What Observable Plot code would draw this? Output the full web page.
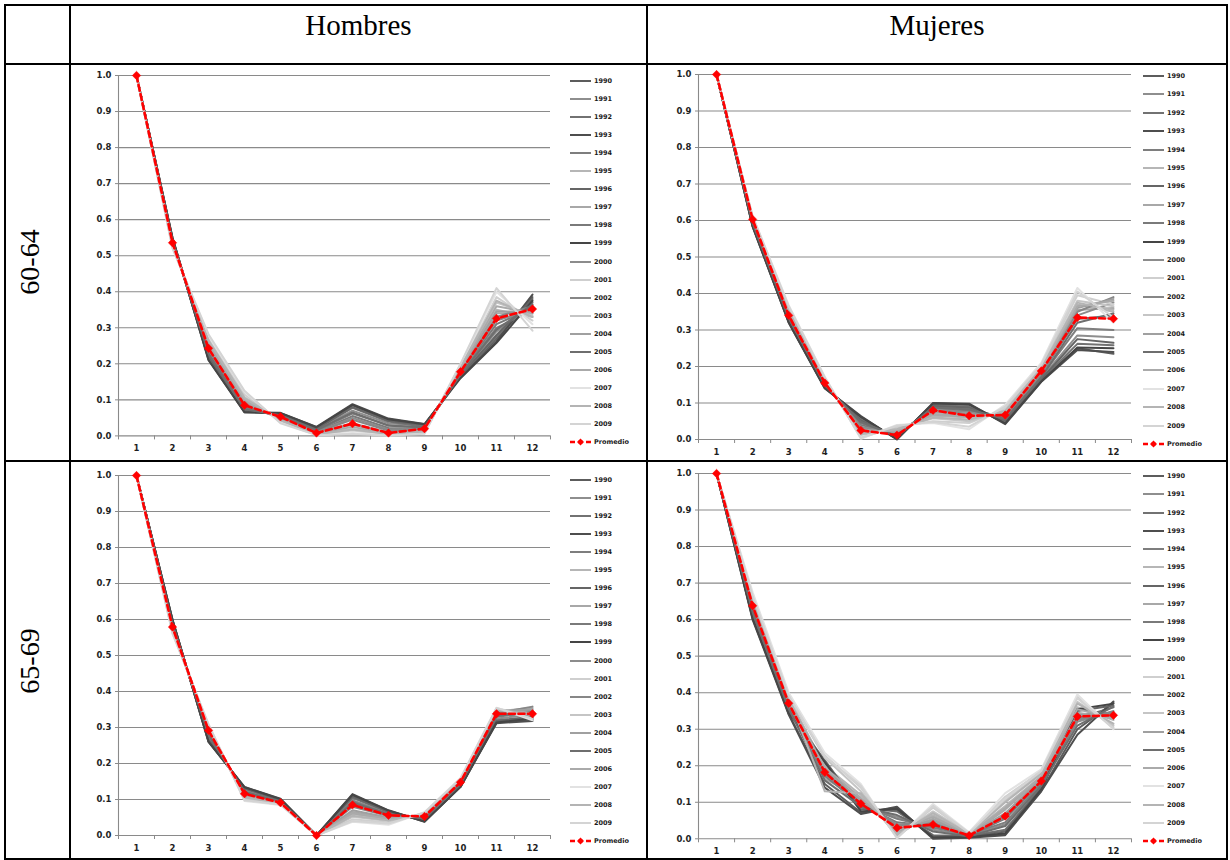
<!DOCTYPE html>
<html>
<head>
<meta charset="utf-8">
<script src="https://cdn.jsdelivr.net/npm/d3@7"></script>
<script src="https://cdn.jsdelivr.net/npm/@observablehq/plot@0.6"></script>
<style>
  body { margin: 0; background: #fff; }
  #page { position: relative; width: 1230px; height: 860px; overflow: hidden; background: #fff; }
  .rule { position: absolute; background: #000; }
  .head { position: absolute; font-family: "Liberation Serif", serif; font-size: 29px; color: #000; text-align: center; line-height: 32px; white-space: nowrap; }
  .rowlab { position: absolute; font-family: "Liberation Serif", serif; font-size: 28px; color: #000; white-space: nowrap; transform: translate(-50%, -50%) rotate(-90deg); }
  .panel { position: absolute; }
  .legend { position: absolute; font-family: "DejaVu Sans", sans-serif; font-weight: bold; font-size: 6.5px; color: #1a1a1a; }
  .legend .item { position: absolute; left: 0; height: 8px; display: flex; align-items: center; white-space: nowrap; }
  .legend svg { display: block; margin-right: 3px; }
</style>
</head>
<body>
<div id="page"></div>
<script>
// Month index on the horizontal axis and the value ticks on the vertical one
const categories = [1, 2, 3, 4, 5, 6, 7, 8, 9, 10, 11, 12];
const yTicks = [0, 0.1, 0.2, 0.3, 0.4, 0.5, 0.6, 0.7, 0.8, 0.9, 1.0];

const years = [1990, 1991, 1992, 1993, 1994, 1995, 1996, 1997, 1998, 1999,
               2000, 2001, 2002, 2003, 2004, 2005, 2006, 2007, 2008, 2009];
const yearColors = ["#5c5c5c", "#8e8e8e", "#727272", "#4e4e4e", "#7e7e7e", "#b6b6b6", "#656565", "#a8a8a8", "#7a7a7a", "#454545",
                    "#8c8c8c", "#cfcfcf", "#878787", "#c5c5c5", "#a0a0a0", "#6e6e6e", "#aaaaaa", "#e2e2e2", "#b4b4b4", "#d4d4d4"];

const columnTitles = ["Hombres", "Mujeres"];
const rowTitles = ["60-64", "65-69"];

// Hombres, 60-64: one row per year, twelve values each
const hombres6064 = [
  [1, 0.545, 0.215, 0.068, 0.062, 0.022, 0.085, 0.045, 0.030, 0.165, 0.270, 0.385],
  [1, 0.540, 0.225, 0.075, 0.058, 0.018, 0.070, 0.035, 0.028, 0.170, 0.290, 0.360],
  [1, 0.548, 0.220, 0.070, 0.060, 0.020, 0.078, 0.040, 0.025, 0.165, 0.275, 0.370],
  [1, 0.550, 0.212, 0.065, 0.064, 0.025, 0.088, 0.048, 0.033, 0.162, 0.262, 0.392],
  [1, 0.538, 0.230, 0.078, 0.055, 0.015, 0.062, 0.030, 0.022, 0.172, 0.300, 0.350],
  [1, 0.530, 0.258, 0.100, 0.045, 0.008, 0.030, 0.008, 0.015, 0.182, 0.350, 0.330],
  [1, 0.545, 0.218, 0.070, 0.060, 0.020, 0.080, 0.042, 0.030, 0.166, 0.280, 0.380],
  [1, 0.532, 0.250, 0.095, 0.048, 0.010, 0.035, 0.010, 0.018, 0.180, 0.340, 0.340],
  [1, 0.540, 0.235, 0.080, 0.052, 0.012, 0.055, 0.022, 0.020, 0.175, 0.310, 0.355],
  [1, 0.550, 0.210, 0.066, 0.063, 0.024, 0.086, 0.046, 0.032, 0.160, 0.258, 0.375],
  [1, 0.538, 0.238, 0.085, 0.050, 0.010, 0.050, 0.018, 0.020, 0.176, 0.320, 0.350],
  [1, 0.525, 0.270, 0.115, 0.040, 0.004, 0.015, 0.003, 0.010, 0.192, 0.385, 0.320],
  [1, 0.535, 0.240, 0.088, 0.050, 0.010, 0.045, 0.015, 0.020, 0.178, 0.330, 0.360],
  [1, 0.528, 0.262, 0.108, 0.042, 0.005, 0.020, 0.004, 0.012, 0.188, 0.370, 0.335],
  [1, 0.532, 0.248, 0.092, 0.047, 0.008, 0.032, 0.008, 0.016, 0.182, 0.345, 0.345],
  [1, 0.542, 0.228, 0.074, 0.057, 0.016, 0.065, 0.028, 0.024, 0.170, 0.295, 0.365],
  [1, 0.530, 0.255, 0.098, 0.045, 0.006, 0.025, 0.006, 0.014, 0.185, 0.360, 0.340],
  [1, 0.522, 0.278, 0.122, 0.037, 0.002, 0.008, 0.002, 0.008, 0.198, 0.400, 0.310],
  [1, 0.528, 0.265, 0.105, 0.043, 0.004, 0.018, 0.005, 0.012, 0.190, 0.375, 0.330],
  [1, 0.520, 0.282, 0.125, 0.035, 0.002, 0.005, 0.001, 0.006, 0.200, 0.410, 0.292]
];
const promedioH6064 = [1.0, 0.536, 0.243, 0.085, 0.053, 0.008, 0.034, 0.008, 0.020, 0.178, 0.326, 0.352];

// Mujeres, 60-64
const mujeres6064 = [
  [1, 0.585, 0.322, 0.142, 0.060, 0.002, 0.098, 0.095, 0.045, 0.160, 0.250, 0.235],
  [1, 0.592, 0.330, 0.148, 0.050, 0.008, 0.090, 0.088, 0.055, 0.168, 0.285, 0.280],
  [1, 0.588, 0.326, 0.145, 0.055, 0.005, 0.095, 0.090, 0.050, 0.163, 0.262, 0.258],
  [1, 0.583, 0.320, 0.140, 0.064, 0.000, 0.100, 0.098, 0.042, 0.158, 0.245, 0.240],
  [1, 0.595, 0.334, 0.150, 0.045, 0.010, 0.088, 0.085, 0.058, 0.172, 0.305, 0.300],
  [1, 0.605, 0.352, 0.162, 0.020, 0.025, 0.065, 0.060, 0.075, 0.192, 0.370, 0.350],
  [1, 0.590, 0.328, 0.146, 0.052, 0.006, 0.092, 0.088, 0.052, 0.165, 0.275, 0.265],
  [1, 0.603, 0.348, 0.160, 0.025, 0.022, 0.070, 0.065, 0.070, 0.190, 0.355, 0.360],
  [1, 0.597, 0.338, 0.152, 0.040, 0.012, 0.085, 0.078, 0.060, 0.178, 0.330, 0.340],
  [1, 0.584, 0.321, 0.141, 0.062, 0.001, 0.099, 0.096, 0.044, 0.159, 0.252, 0.250],
  [1, 0.598, 0.340, 0.153, 0.035, 0.015, 0.082, 0.075, 0.062, 0.180, 0.340, 0.375],
  [1, 0.610, 0.362, 0.168, 0.005, 0.035, 0.050, 0.045, 0.085, 0.200, 0.395, 0.370],
  [1, 0.600, 0.342, 0.155, 0.030, 0.018, 0.080, 0.070, 0.065, 0.182, 0.350, 0.390],
  [1, 0.607, 0.356, 0.165, 0.012, 0.030, 0.058, 0.050, 0.080, 0.196, 0.380, 0.365],
  [1, 0.602, 0.346, 0.158, 0.028, 0.020, 0.075, 0.068, 0.068, 0.186, 0.360, 0.385],
  [1, 0.593, 0.332, 0.149, 0.048, 0.009, 0.088, 0.082, 0.056, 0.170, 0.320, 0.345],
  [1, 0.604, 0.350, 0.161, 0.022, 0.024, 0.068, 0.062, 0.072, 0.192, 0.365, 0.380],
  [1, 0.612, 0.368, 0.172, 0.002, 0.040, 0.045, 0.028, 0.095, 0.210, 0.415, 0.320],
  [1, 0.606, 0.354, 0.163, 0.015, 0.028, 0.060, 0.055, 0.078, 0.194, 0.375, 0.355],
  [1, 0.611, 0.365, 0.170, 0.004, 0.038, 0.048, 0.035, 0.090, 0.205, 0.405, 0.335]
];
const promedioM6064 = [1.0, 0.603, 0.340, 0.155, 0.025, 0.012, 0.080, 0.065, 0.067, 0.188, 0.334, 0.331];

// Hombres, 65-69
const hombres6569 = [
  [1, 0.598, 0.262, 0.133, 0.100, 0, 0.112, 0.068, 0.040, 0.136, 0.315, 0.322],
  [1, 0.590, 0.275, 0.125, 0.095, 0, 0.098, 0.062, 0.045, 0.140, 0.325, 0.335],
  [1, 0.594, 0.268, 0.130, 0.098, 0, 0.105, 0.065, 0.042, 0.138, 0.320, 0.330],
  [1, 0.600, 0.260, 0.135, 0.102, 0, 0.115, 0.070, 0.038, 0.135, 0.312, 0.318],
  [1, 0.588, 0.278, 0.122, 0.094, 0, 0.095, 0.060, 0.046, 0.142, 0.330, 0.340],
  [1, 0.572, 0.298, 0.108, 0.090, 0, 0.060, 0.045, 0.055, 0.152, 0.345, 0.355],
  [1, 0.596, 0.265, 0.131, 0.099, 0, 0.108, 0.066, 0.041, 0.137, 0.318, 0.328],
  [1, 0.575, 0.295, 0.110, 0.091, 0, 0.065, 0.048, 0.054, 0.150, 0.342, 0.352],
  [1, 0.585, 0.282, 0.120, 0.093, 0, 0.090, 0.058, 0.048, 0.144, 0.335, 0.345],
  [1, 0.599, 0.261, 0.134, 0.101, 0, 0.113, 0.069, 0.039, 0.135, 0.314, 0.325],
  [1, 0.583, 0.285, 0.118, 0.092, 0, 0.085, 0.056, 0.050, 0.146, 0.338, 0.348],
  [1, 0.565, 0.305, 0.100, 0.087, 0, 0.045, 0.036, 0.062, 0.157, 0.352, 0.338],
  [1, 0.580, 0.288, 0.116, 0.092, 0, 0.080, 0.054, 0.051, 0.148, 0.340, 0.358],
  [1, 0.568, 0.302, 0.104, 0.088, 0, 0.052, 0.040, 0.060, 0.155, 0.350, 0.342],
  [1, 0.578, 0.292, 0.112, 0.090, 0, 0.070, 0.050, 0.053, 0.150, 0.345, 0.350],
  [1, 0.587, 0.280, 0.121, 0.094, 0, 0.092, 0.059, 0.047, 0.143, 0.332, 0.344],
  [1, 0.574, 0.296, 0.109, 0.090, 0, 0.062, 0.046, 0.056, 0.152, 0.348, 0.340],
  [1, 0.560, 0.310, 0.096, 0.085, 0, 0.038, 0.030, 0.065, 0.160, 0.355, 0.320],
  [1, 0.570, 0.300, 0.106, 0.089, 0, 0.055, 0.042, 0.058, 0.154, 0.350, 0.335],
  [1, 0.562, 0.308, 0.098, 0.086, 0, 0.040, 0.033, 0.064, 0.158, 0.354, 0.325]
];
const promedioH6569 = [1.0, 0.579, 0.292, 0.116, 0.091, 0.0, 0.085, 0.056, 0.053, 0.148, 0.338, 0.338];

// Mujeres, 65-69
const mujeres6569 = [
  [1, 0.605, 0.342, 0.150, 0.072, 0.085, 0.002, 0.005, 0.012, 0.132, 0.300, 0.372],
  [1, 0.625, 0.360, 0.175, 0.090, 0.060, 0.025, 0.010, 0.040, 0.148, 0.320, 0.350],
  [1, 0.615, 0.350, 0.205, 0.085, 0.075, 0.010, 0.008, 0.025, 0.140, 0.330, 0.360],
  [1, 0.600, 0.340, 0.140, 0.068, 0.088, 0.000, 0.003, 0.010, 0.130, 0.285, 0.376],
  [1, 0.628, 0.362, 0.185, 0.092, 0.055, 0.030, 0.012, 0.045, 0.150, 0.340, 0.345],
  [1, 0.655, 0.385, 0.200, 0.120, 0.015, 0.065, 0.012, 0.090, 0.172, 0.360, 0.325],
  [1, 0.612, 0.348, 0.215, 0.080, 0.078, 0.008, 0.006, 0.020, 0.138, 0.350, 0.365],
  [1, 0.650, 0.380, 0.165, 0.110, 0.020, 0.055, 0.010, 0.080, 0.168, 0.345, 0.330],
  [1, 0.630, 0.365, 0.172, 0.095, 0.045, 0.035, 0.008, 0.055, 0.155, 0.328, 0.340],
  [1, 0.603, 0.345, 0.210, 0.075, 0.082, 0.004, 0.004, 0.015, 0.135, 0.355, 0.370],
  [1, 0.635, 0.368, 0.178, 0.098, 0.040, 0.040, 0.010, 0.060, 0.158, 0.335, 0.340],
  [1, 0.668, 0.395, 0.228, 0.140, 0.004, 0.085, 0.015, 0.115, 0.185, 0.390, 0.305],
  [1, 0.638, 0.370, 0.180, 0.100, 0.035, 0.045, 0.009, 0.065, 0.160, 0.325, 0.348],
  [1, 0.660, 0.390, 0.222, 0.130, 0.008, 0.075, 0.014, 0.105, 0.180, 0.375, 0.310],
  [1, 0.645, 0.376, 0.190, 0.105, 0.028, 0.050, 0.011, 0.070, 0.165, 0.338, 0.335],
  [1, 0.620, 0.355, 0.160, 0.088, 0.065, 0.020, 0.007, 0.035, 0.145, 0.310, 0.362],
  [1, 0.648, 0.378, 0.195, 0.112, 0.022, 0.060, 0.012, 0.085, 0.170, 0.355, 0.328],
  [1, 0.675, 0.400, 0.235, 0.150, 0.001, 0.095, 0.018, 0.125, 0.190, 0.395, 0.300],
  [1, 0.658, 0.388, 0.130, 0.125, 0.010, 0.070, 0.013, 0.100, 0.178, 0.370, 0.315],
  [1, 0.665, 0.392, 0.225, 0.145, 0.003, 0.090, 0.016, 0.110, 0.186, 0.385, 0.302]
];
const promedioM6569 = [1.0, 0.638, 0.371, 0.182, 0.096, 0.030, 0.039, 0.009, 0.062, 0.158, 0.335, 0.338];

const promedioLabel = "Promedio";
const red = "#ff0000";
const axisGray = "#8a8a8a";

const page = document.getElementById("page");

// ---- table frame ----
function rule(x, y, w, h) {
  const d = document.createElement("div");
  d.className = "rule";
  Object.assign(d.style, {left: x + "px", top: y + "px", width: w + "px", height: h + "px"});
  page.appendChild(d);
}
rule(4, 4, 1224, 2);      // top
rule(4, 63, 1224, 2);     // below header
rule(4, 460, 1224, 2);    // between rows
rule(4, 858, 1224, 2);    // bottom
rule(4, 4, 2, 856);       // left
rule(69, 4, 2, 856);      // after row-label column
rule(646, 4, 2, 856);     // between Hombres and Mujeres
rule(1226, 4, 2, 856);    // right

// column headers
[[70, 577], [648, 578]].forEach(([x, w], i) => {
  const d = document.createElement("div");
  d.className = "head";
  Object.assign(d.style, {left: x + "px", width: w + "px", top: "9px"});
  d.textContent = columnTitles[i];
  page.appendChild(d);
});
// row labels, written bottom to top
[262, 661].forEach((cy, i) => {
  const d = document.createElement("div");
  d.className = "rowlab";
  Object.assign(d.style, {left: "30px", top: cy + "px"});
  d.textContent = rowTitles[i];
  page.appendChild(d);
});

// ---- panels ----
const panels = [
  {values: hombres6064, promedio: promedioH6064, left: 70, top: 65, plotW: 432, plotH: 360.4, marginBottom: 25, legendX: 570, legendY: 81, legendStep: 18.05},
  {values: mujeres6064, promedio: promedioM6064, left: 650, top: 64, plotW: 433, plotH: 365, marginBottom: 24, legendX: 1143, legendY: 76, legendStep: 18.4},
  {values: hombres6569, promedio: promedioH6569, left: 70, top: 465, plotW: 432, plotH: 360, marginBottom: 25, legendX: 570, legendY: 480, legendStep: 18.05},
  {values: mujeres6569, promedio: promedioM6569, left: 650, top: 463, plotW: 433, plotH: 365.3, marginBottom: 22, legendX: 1143, legendY: 476, legendStep: 18.25}
];

const bounds = categories.map(c => c - 0.5).concat([categories[categories.length - 1] + 0.5]);

for (const p of panels) {
  const rows = years.flatMap((yr, i) => p.values[i].map((v, j) => ({year: yr, cat: categories[j], value: v})));
  const prom = p.promedio.map((v, j) => ({cat: categories[j], value: v}));
  const marginLeft = 48, marginTop = 10, marginRight = 2;

  const chart = Plot.plot({
    width: marginLeft + p.plotW + marginRight,
    height: marginTop + p.plotH + p.marginBottom,
    marginLeft, marginTop, marginRight, marginBottom: p.marginBottom,
    style: {fontFamily: "DejaVu Sans, sans-serif", fontSize: "8.5px", fontWeight: "bold", color: "#1e1e1e", background: "transparent", overflow: "visible"},
    x: {domain: [bounds[0], bounds[bounds.length - 1]]},
    y: {domain: [0, 1]},
    color: {domain: years, range: yearColors},
    marks: [
      Plot.gridY(yTicks.slice(1), {stroke: axisGray, strokeOpacity: 1, strokeWidth: 1.1}),
      Plot.ruleX([bounds[0]], {y1: 0, y2: 1, stroke: axisGray, strokeWidth: 1.1}),
      Plot.ruleY([0], {stroke: axisGray, strokeWidth: 1.1}),
      Plot.axisY(yTicks, {tickFormat: d3.format(".1f"), tickSize: 3, tickPadding: 4, stroke: axisGray, label: null}),
      Plot.axisX(bounds, {tickSize: 4, tickFormat: () => "", stroke: axisGray, label: null}),
      Plot.axisX(categories, {tickSize: 0, tickPadding: 9, tickFormat: d => String(d), label: null}),
      Plot.line(rows, {x: "cat", y: "value", z: "year", stroke: "year", strokeWidth: 2}),
      Plot.line(prom, {x: "cat", y: "value", stroke: red, strokeWidth: 2.6, strokeDasharray: "6,3.5"}),
      Plot.dot(prom, {x: "cat", y: "value", symbol: "diamond2", r: 3.8, fill: red, stroke: red, strokeWidth: 0.5})
    ]
  });
  const holder = document.createElement("div");
  holder.className = "panel";
  Object.assign(holder.style, {left: p.left + "px", top: p.top + "px"});
  holder.appendChild(chart);
  page.appendChild(holder);

  // legend: one swatch per year, then the average
  const leg = document.createElement("div");
  leg.className = "legend";
  Object.assign(leg.style, {left: p.legendX + "px", top: "0px"});
  const entries = years.map((yr, i) => ({label: String(yr), color: yearColors[i], avg: false}))
    .concat([{label: promedioLabel, color: red, avg: true}]);
  entries.forEach((e, i) => {
    const item = document.createElement("div");
    item.className = "item";
    item.style.top = (p.legendY + i * p.legendStep - 4) + "px";
    const sw = e.avg
      ? `<svg width="21" height="8"><line x1="0" y1="4" x2="21" y2="4" stroke="${red}" stroke-width="2.4" stroke-dasharray="5,3"/><path d="M10.5,0.5L14,4L10.5,7.5L7,4Z" fill="${red}"/></svg>`
      : `<svg width="21" height="8"><line x1="0" y1="4" x2="21" y2="4" stroke="${e.color}" stroke-width="2"/></svg>`;
    item.innerHTML = sw + `<span>${e.label}</span>`;
    leg.appendChild(item);
  });
  page.appendChild(leg);
}
</script>
</body>
</html>
